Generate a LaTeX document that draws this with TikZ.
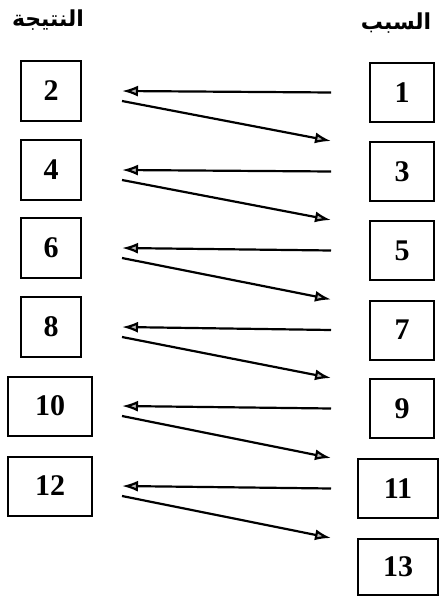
\documentclass[tikz,border=0pt]{standalone}
\usepackage{fontspec}
\setmainfont{Liberation Serif}
\newfontfamily\arabicfont[Script=Arabic]{DejaVu Sans}
\TeXXeTstate=1
\usetikzlibrary{arrows.meta}
\newcommand{\numfont}{\fontsize{15}{18}\selectfont\bfseries}
\newcommand{\titlefont}{\arabicfont\bfseries\fontsize{11}{13}\selectfont}

\begin{document}
\begin{tikzpicture}[x=0.5pt,y=-0.5pt,
    box/.style={draw,line width=1pt,inner sep=0pt,font=\numfont},
    arr/.style={line width=1.1pt,-{Latex[length=8pt,width=5.5pt,fill=gray!55]}}]
    % Bingkai
    \useasboundingbox[fill=white] (0,0) rectangle (439,598);

    % Judul
    \node[anchor=base,font=\titlefont] (tleft) at (48,27) {\beginR النتيجة\endR};
    \node[anchor=base,font=\titlefont] (tright) at (396,30) {\beginR السبب\endR};

    % Kotak kiri (النتيجة)
    \foreach \n/\y in {2/91,4/170,6/248,8/327}
        \node[box,minimum width=30pt,minimum height=30pt] (n\n) at (51,\y) {\n};
    \foreach \n/\y in {10/406,12/486}
        \node[box,minimum width=42pt,minimum height=29.5pt] (n\n) at (50,\y) {\n};

    % Kotak kanan (السبب)
    \foreach \n/\y in {1/92.5,3/171.5,5/250.5,7/330,9/408.5}
        \node[box,minimum width=32pt,minimum height=29.5pt] (s\n) at (402,\y) {\n};
    \node[box,minimum width=40pt,minimum height=29.5pt] (s11) at (398,488.5) {11};
    \node[box,minimum width=40pt,minimum height=28pt] (s13) at (398,567) {13};

    % Batas panah
    \coordinate (lline) at (122,0);
    \coordinate (rline) at (331,0);

    % Panah
    \foreach \a/\b/\c in {1/2/3,3/4/5,5/6/7,7/8/9,9/10/11,11/12/13} {
        \draw[arr] (s\a.west -| rline) -- (n\b.east -| lline);
        \draw[arr] ([yshift=-5pt]n\b.east -| lline) -- (s\c.north -| rline);
    }
\end{tikzpicture}
\end{document}
